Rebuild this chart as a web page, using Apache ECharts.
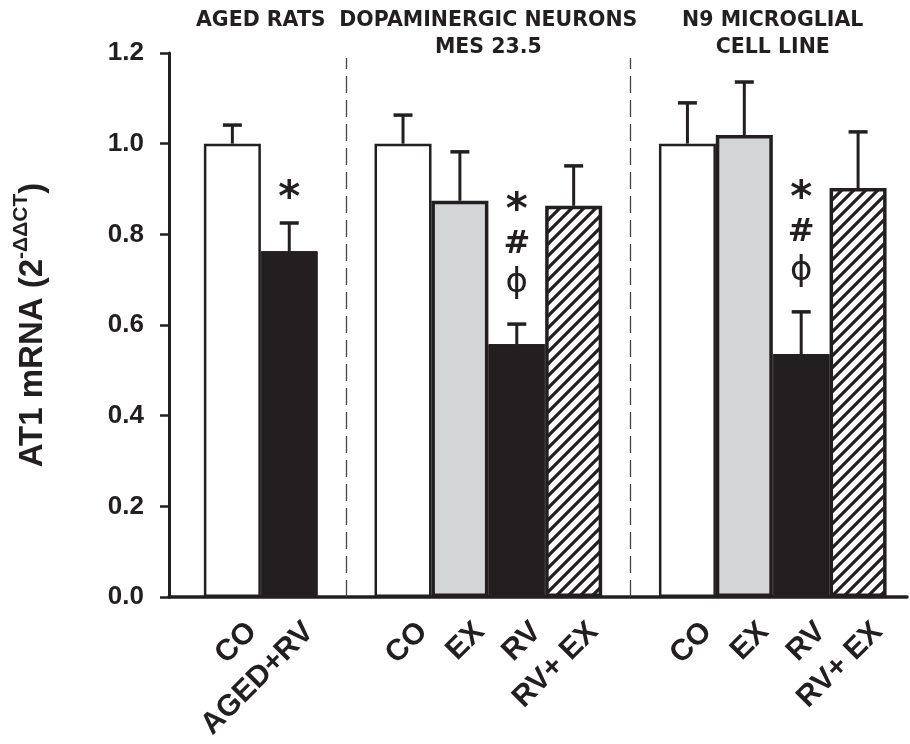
<!DOCTYPE html>
<html><head><meta charset="utf-8">
<script src="https://cdn.jsdelivr.net/npm/echarts@6/dist/echarts.min.js"></script>
<style>html,body{margin:0;padding:0;background:#fff}#c{width:910px;height:744px}</style>
</head><body><div id="c"></div>
<script>
// ---- data ----
const categories   = ['CO','AGED+RV','','CO','EX','RV','RV+ EX','','CO','EX','RV','RV+ EX'];
const means        = [1.00, 0.763, null, 1.00, 0.874, 0.558, 0.863, null, 1.00, 1.019, 0.536, 0.902];
const upperErrors  = [0.041, 0.062, null, 0.063, 0.108, 0.044, 0.088, null, 0.090, 0.117, 0.093, 0.124];
const annotations  = [[], ['*'], [], [], [], ['*','#','ϕ'], [], [], [], [], ['*','#','ϕ'], []];
const groupTitles  = [['AGED RATS'], ['DOPAMINERGIC NEURONS','MES 23.5'], ['N9 MICROGLIAL','CELL LINE']];
const yMin = 0, yMax = 1.2, yStep = 0.2;

// ---- styles ----
const INK = '#231f20';
const FONT = '"Liberation Sans", Arial, sans-serif';
function hatchPattern(){
  const p = 12, c = document.createElement('canvas');
  c.width = c.height = p;
  const g = c.getContext('2d');
  g.fillStyle = '#fff'; g.fillRect(0,0,p,p);
  g.strokeStyle = INK; g.lineWidth = 3.2; g.lineCap = 'square';
  g.beginPath();
  g.moveTo(-2, p+2); g.lineTo(p+2, -2);
  g.moveTo(-2, 2); g.lineTo(2, -2);
  g.moveTo(p-2, p+2); g.lineTo(p+2, p-2);
  g.stroke();
  return c;
}
const barStyles = {
  'CO':      {color:'#ffffff', borderColor:INK, borderWidth:2.5},
  'EX':      {color:'#d4d5d7', borderColor:INK, borderWidth:3.5},
  'RV':      {color:INK, borderColor:INK, borderWidth:1},
  'AGED+RV': {color:INK, borderColor:INK, borderWidth:1},
  'RV+ EX':  {color:{image:hatchPattern(), repeat:'repeat'}, borderColor:INK, borderWidth:3.5}
};
const glyphs = {
  '*': {font:'bold 42px "DejaVu Sans"', halfH:9.5, dy:8},
  '#': {font:'bold 32px "DejaVu Sans"', halfH:11.5, dy:0},
  'ϕ': {font:'normal 34px "DejaVu Sans"', halfH:18.5, dy:-1}
};

const barData = [], errData = [];
categories.forEach((c,i)=>{
  if (means[i] == null) return;
  barData.push({value:[i, means[i]], itemStyle: barStyles[c]});
  errData.push({value:[i, means[i], means[i] + upperErrors[i]]});
});
const spacerIdx = categories.map((c,i)=> c==='' ? i : -1).filter(i=>i>=0);
const labelIdx  = categories.map((c,i)=> c!=='' ? i : -1).filter(i=>i>=0);

const groups = []; let cur = [];
categories.forEach((c,i)=>{ if (c===''){ groups.push(cur); cur=[]; } else cur.push(i); });
groups.push(cur);
const titleData = groups.map((g,k)=>({value:[(g[0]+g[g.length-1])/2, yMax, k]}));

const chart = echarts.init(document.getElementById('c'), null, {renderer:'canvas'});
const xMin = -1.114, xMax = 11.86;

chart.setOption({
  animation:false,
  backgroundColor:'#fff',
  grid:{left:169, right:3, top:53, bottom:147},
  xAxis:{
    type:'value', min:xMin, max:xMax,
    axisLine:{show:true, onZero:false, lineStyle:{color:INK, width:3.5}},
    axisTick:{show:false},
    splitLine:{show:false},
    axisLabel:{
      customValues: labelIdx, rotate:45, margin:50, padding:[0,-28,0,0],
      formatter: v => categories[Math.round(v)] || '',
      color:INK, fontSize:30, fontWeight:'bold', fontFamily:FONT
    }
  },
  yAxis:{
    type:'value', min:yMin, max:yMax, interval:yStep,
    axisLine:{show:true, onZero:false, lineStyle:{color:INK, width:3}},
    axisTick:{show:true, length:9, lineStyle:{color:INK, width:2.5}},
    splitLine:{show:false},
    axisLabel:{
      formatter: v => v.toFixed(1), margin:25,
      color:INK, fontSize:26, fontWeight:'bold', fontFamily:FONT
    },
    name:'{a|AT1 mRNA (2}{s|-ΔΔCT}{a|)}',
    nameLocation:'middle', nameGap:114,
    nameTextStyle:{
      rich:{
        a:{fontSize:33, fontWeight:'bold', color:INK, fontFamily:FONT, lineHeight:44},
        s:{fontSize:21, fontWeight:'bold', color:INK, fontFamily:FONT, verticalAlign:'top', lineHeight:44}
      }
    }
  },
  series:[
    {
      type:'bar', data:barData, barWidth:57, z:2,
      markLine:{
        silent:true, symbol:'none', label:{show:false},
        lineStyle:{color:'#444', width:1.3, type:[17,7]},
        data: spacerIdx.map(i=>[{coord:[i, 0]},{coord:[i, 1.189]}])
      }
    },
    {
      type:'custom', data:errData, z:3,
      dimensions:['x','mean','top'],
      encode:{x:0, y:[1,2]},
      renderItem(params, api){
        const i = api.value(0);
        const p0 = api.coord([i, api.value(1)]);
        const p1 = api.coord([i, api.value(2)]);
        const children = [
          {type:'line', shape:{x1:p0[0], y1:p0[1], x2:p1[0], y2:p1[1]}, style:{stroke:INK, lineWidth:3}},
          {type:'line', shape:{x1:p1[0]-9.5, y1:p1[1], x2:p1[0]+9.5, y2:p1[1]}, style:{stroke:INK, lineWidth:3.5}}
        ];
        const ann = annotations[i].slice().reverse();
        let off = 0;
        ann.forEach((s,k)=>{
          const g = glyphs[s];
          off = (k===0) ? g.halfH + 21 : off + 40;
          children.push({type:'text', style:{text:s, x:p1[0], y:p1[1]-off+g.dy, font:g.font, fill:INK, align:'center', verticalAlign:'middle'}});
        });
        return {type:'group', children};
      }
    },
    {
      type:'custom', data:titleData, z:4, clip:false,
      dimensions:['x','y','g'],
      encode:{x:0, y:1},
      renderItem(params, api){
        const p = api.coord([api.value(0), api.value(1)]);
        const lines = groupTitles[api.value(2)];
        return {type:'group', children: lines.map((t,j)=>({
          type:'text',
          style:{text:t, x:p[0], y:p[1]-32+j*27, font:'bold 20.5px "DejaVu Sans"', fill:INK, align:'center', verticalAlign:'middle'}
        }))};
      }
    }
  ]
});
</script>
</body></html>
